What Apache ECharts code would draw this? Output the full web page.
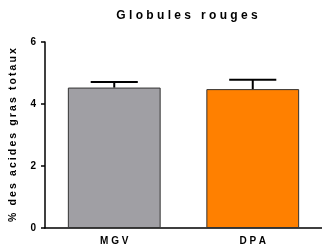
<!DOCTYPE html>
<html>
<head>
<meta charset="utf-8">
<script src="https://cdn.jsdelivr.net/npm/echarts@6/dist/echarts.min.js"></script>
<style>
    html, body { margin: 0; padding: 0; background: #fff; }
    #container { width: 322px; height: 249px; }
</style>
</head>
<body>
<div id="container"></div>
<script type="text/javascript">
    // données
    var categories = ['MGV', 'DPA'];
    var means = [4.53, 4.48];
    var errors = [0.18, 0.30];
    var colors = ['#a09fa4', '#ff8000'];
    var yTicks = [0, 2, 4, 6];

    // espacement des lettres
    function spaced(s, sep) {
        return s.split('').join(sep || ' ');
    }

    var chart = echarts.init(document.getElementById('container'));
    var option = {
        animation: false,
        title: {
            text: spaced('Globules rouges'),
            left: 182,
            textAlign: 'center',
            top: 5,
            textStyle: { fontFamily: 'Liberation Sans', fontSize: 12, fontWeight: 'bold', color: '#000' }
        },
        grid: { left: 44, right: -2, top: 42, bottom: 21 },
        xAxis: {
            type: 'category',
            data: categories,
            axisLine: { lineStyle: { color: '#000', width: 1.5 } },
            axisTick: { alignWithLabel: true, length: 4, lineStyle: { color: '#000', width: 1.5 } },
            axisLabel: {
                formatter: function (v) { return spaced(v); },
                fontFamily: 'Liberation Sans', fontSize: 10, fontWeight: 'bold', color: '#000', margin: 8
            }
        },
        yAxis: {
            type: 'value',
            min: yTicks[0],
            max: yTicks[yTicks.length - 1],
            interval: 2,
            name: spaced('% des acides gras totaux', '\u2009'),
            nameLocation: 'middle',
            nameGap: 26,
            nameTextStyle: { fontFamily: 'Liberation Sans', fontSize: 10.5, fontWeight: 'bold', color: '#000' },
            splitLine: { show: false },
            axisLine: { show: true, lineStyle: { color: '#000', width: 1.5 } },
            axisTick: { show: true, length: 4, lineStyle: { color: '#000', width: 1.5 } },
            axisLabel: { fontFamily: 'Liberation Sans', fontSize: 10, fontWeight: 'bold', color: '#000', margin: 9 }
        },
        series: [{
            type: 'bar',
            barCategoryGap: '33%',
            data: means.map(function (v, i) {
                return { value: v, itemStyle: { color: colors[i] } };
            }),
            itemStyle: { borderColor: '#333', borderWidth: 1 }
        }, {
            type: 'custom',
            z: 3,
            data: means.map(function (v, i) { return [i, v, v + errors[i]]; }),
            renderItem: function (params, api) {
                var lo = api.coord([api.value(0), api.value(1)]);
                var hi = api.coord([api.value(0), api.value(2)]);
                var half = api.size([1, 0])[0] * 0.17;
                var style = { stroke: '#000', lineWidth: 2 };
                return {
                    type: 'group',
                    children: [{
                        type: 'line',
                        shape: { x1: lo[0], y1: lo[1], x2: hi[0], y2: hi[1] },
                        style: style
                    }, {
                        type: 'line',
                        shape: { x1: hi[0] - half, y1: hi[1], x2: hi[0] + half, y2: hi[1] },
                        style: style
                    }]
                };
            }
        }]
    };
    chart.setOption(option);
</script>
</body>
</html>
